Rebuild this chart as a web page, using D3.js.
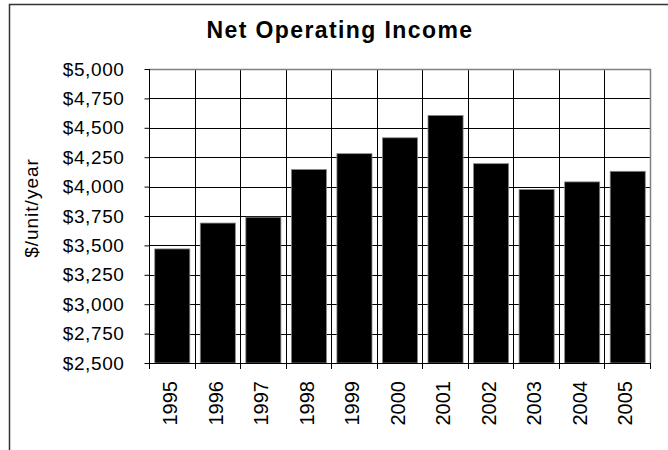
<!DOCTYPE html>
<html>
<head>
<meta charset="utf-8">
<script src="https://cdn.jsdelivr.net/npm/d3@7"></script>
<style>
  body { margin: 0; background: #fff; }
  text { font-family: "Liberation Sans", Arial, sans-serif; fill: #000; }
</style>
</head>
<body>
<div id="chart"></div>
<script>
// Chart data
const years = ["1995", "1996", "1997", "1998", "1999", "2000", "2001", "2002", "2003", "2004", "2005"];
const income = [3470, 3690, 3740, 4145, 4280, 4415, 4605, 4195, 3975, 4040, 4130];
const yTicks = [2500, 2750, 3000, 3250, 3500, 3750, 4000, 4250, 4500, 4750, 5000];

const width = 668;
const height = 450;
const margin = { top: 69, right: 18, bottom: 87, left: 149 };
const innerWidth = width - margin.left - margin.right;
const innerHeight = height - margin.top - margin.bottom;

const svg = d3.select("#chart").append("svg")
  .attr("width", width)
  .attr("height", height);

// outer chart border (only left and top visible in the frame)
svg.append("path")
  .attr("d", `M9.5,${height}V4.5H${width}`)
  .attr("fill", "none")
  .attr("stroke", "#333")
  .attr("stroke-width", 1.5);

// Title
svg.append("text")
  .attr("x", 340)
  .attr("y", 38)
  .attr("text-anchor", "middle")
  .attr("font-size", "23px")
  .attr("font-weight", "bold")
  .attr("letter-spacing", "1.4px")
  .text("Net Operating Income");

const g = svg.append("g")
  .attr("transform", `translate(${margin.left},${margin.top})`);

const x = d3.scaleBand()
  .domain(years)
  .range([0, innerWidth])
  .padding(0);

const y = d3.scaleLinear()
  .domain([2500, 5000])
  .range([innerHeight, 0]);

// horizontal gridlines
g.append("g")
  .selectAll("line")
  .data(yTicks.slice(1, -1))
  .join("line")
  .attr("x1", 0)
  .attr("x2", innerWidth)
  .attr("y1", d => Math.round(y(d)) + 0.5)
  .attr("y2", d => Math.round(y(d)) + 0.5)
  .attr("stroke", "#000")
  .attr("stroke-width", 1);

// vertical gridlines at category boundaries
g.append("g")
  .selectAll("line")
  .data(years.slice(1))
  .join("line")
  .attr("x1", d => Math.round(x(d)) + 0.5)
  .attr("x2", d => Math.round(x(d)) + 0.5)
  .attr("y1", 0)
  .attr("y2", innerHeight)
  .attr("stroke", "#000")
  .attr("stroke-width", 1);

// plot area border (top and right, gray)
g.append("path")
  .attr("d", `M0,0.5H${innerWidth + 0.5}V${innerHeight}`)
  .attr("fill", "none")
  .attr("stroke", "#808080")
  .attr("stroke-width", 1.5);

// bars
const barW = x.bandwidth() * 0.77;
g.append("g")
  .selectAll("rect")
  .data(years.map((yr, i) => ({ year: yr, value: income[i] })))
  .join("rect")
  .attr("x", d => x(d.year) + (x.bandwidth() - barW) / 2 + 0.5)
  .attr("width", barW)
  .attr("y", d => y(d.value))
  .attr("height", d => innerHeight - y(d.value))
  .attr("fill", "#000")
  .attr("stroke", "#888")
  .attr("stroke-width", 0.8);

// y axis
const yAxis = g.append("g")
  .attr("transform", "translate(0.5,0)")
  .call(d3.axisLeft(y)
    .tickValues(yTicks)
    .tickSize(5)
    .tickPadding(20)
    .tickFormat(d => "$" + d3.format(",")(d)));
yAxis.select(".domain").attr("stroke", "#000").attr("d", `M0,0V${innerHeight}`);
yAxis.selectAll(".tick line").attr("stroke", "#000");
yAxis.selectAll(".tick text")
  .attr("font-size", "19px")
  .attr("letter-spacing", "0.6px")
  .attr("font-family", "Liberation Sans, Arial, sans-serif")
  .attr("fill", "#000");

// x axis: line + ticks at category boundaries
const xAxis = g.append("g")
  .attr("transform", `translate(0,${innerHeight})`);
xAxis.append("line")
  .attr("x1", 0)
  .attr("x2", innerWidth)
  .attr("y1", 0.5)
  .attr("y2", 0.5)
  .attr("stroke", "#000");
xAxis.selectAll(".xt")
  .data(years.map(d => x(d)).concat([innerWidth]))
  .join("line")
  .attr("class", "xt")
  .attr("x1", d => Math.round(d) + 0.5)
  .attr("x2", d => Math.round(d) + 0.5)
  .attr("y1", 0)
  .attr("y2", 6)
  .attr("stroke", "#000");
xAxis.selectAll(".xl")
  .data(years)
  .join("text")
  .attr("class", "xl")
  .attr("transform", d => `translate(${x(d) + x.bandwidth() / 2 - 2},18) rotate(-90)`)
  .attr("text-anchor", "end")
  .attr("dy", "0.36em")
  .attr("font-size", "20px")
  .text(d => d);

// y axis label
svg.append("text")
  .attr("transform", "translate(31,208) rotate(-90)")
  .attr("text-anchor", "middle")
  .attr("dy", "0.35em")
  .attr("font-size", "19px")
  .attr("letter-spacing", "1px")
  .text("$/unit/year");
</script>
</body>
</html>
